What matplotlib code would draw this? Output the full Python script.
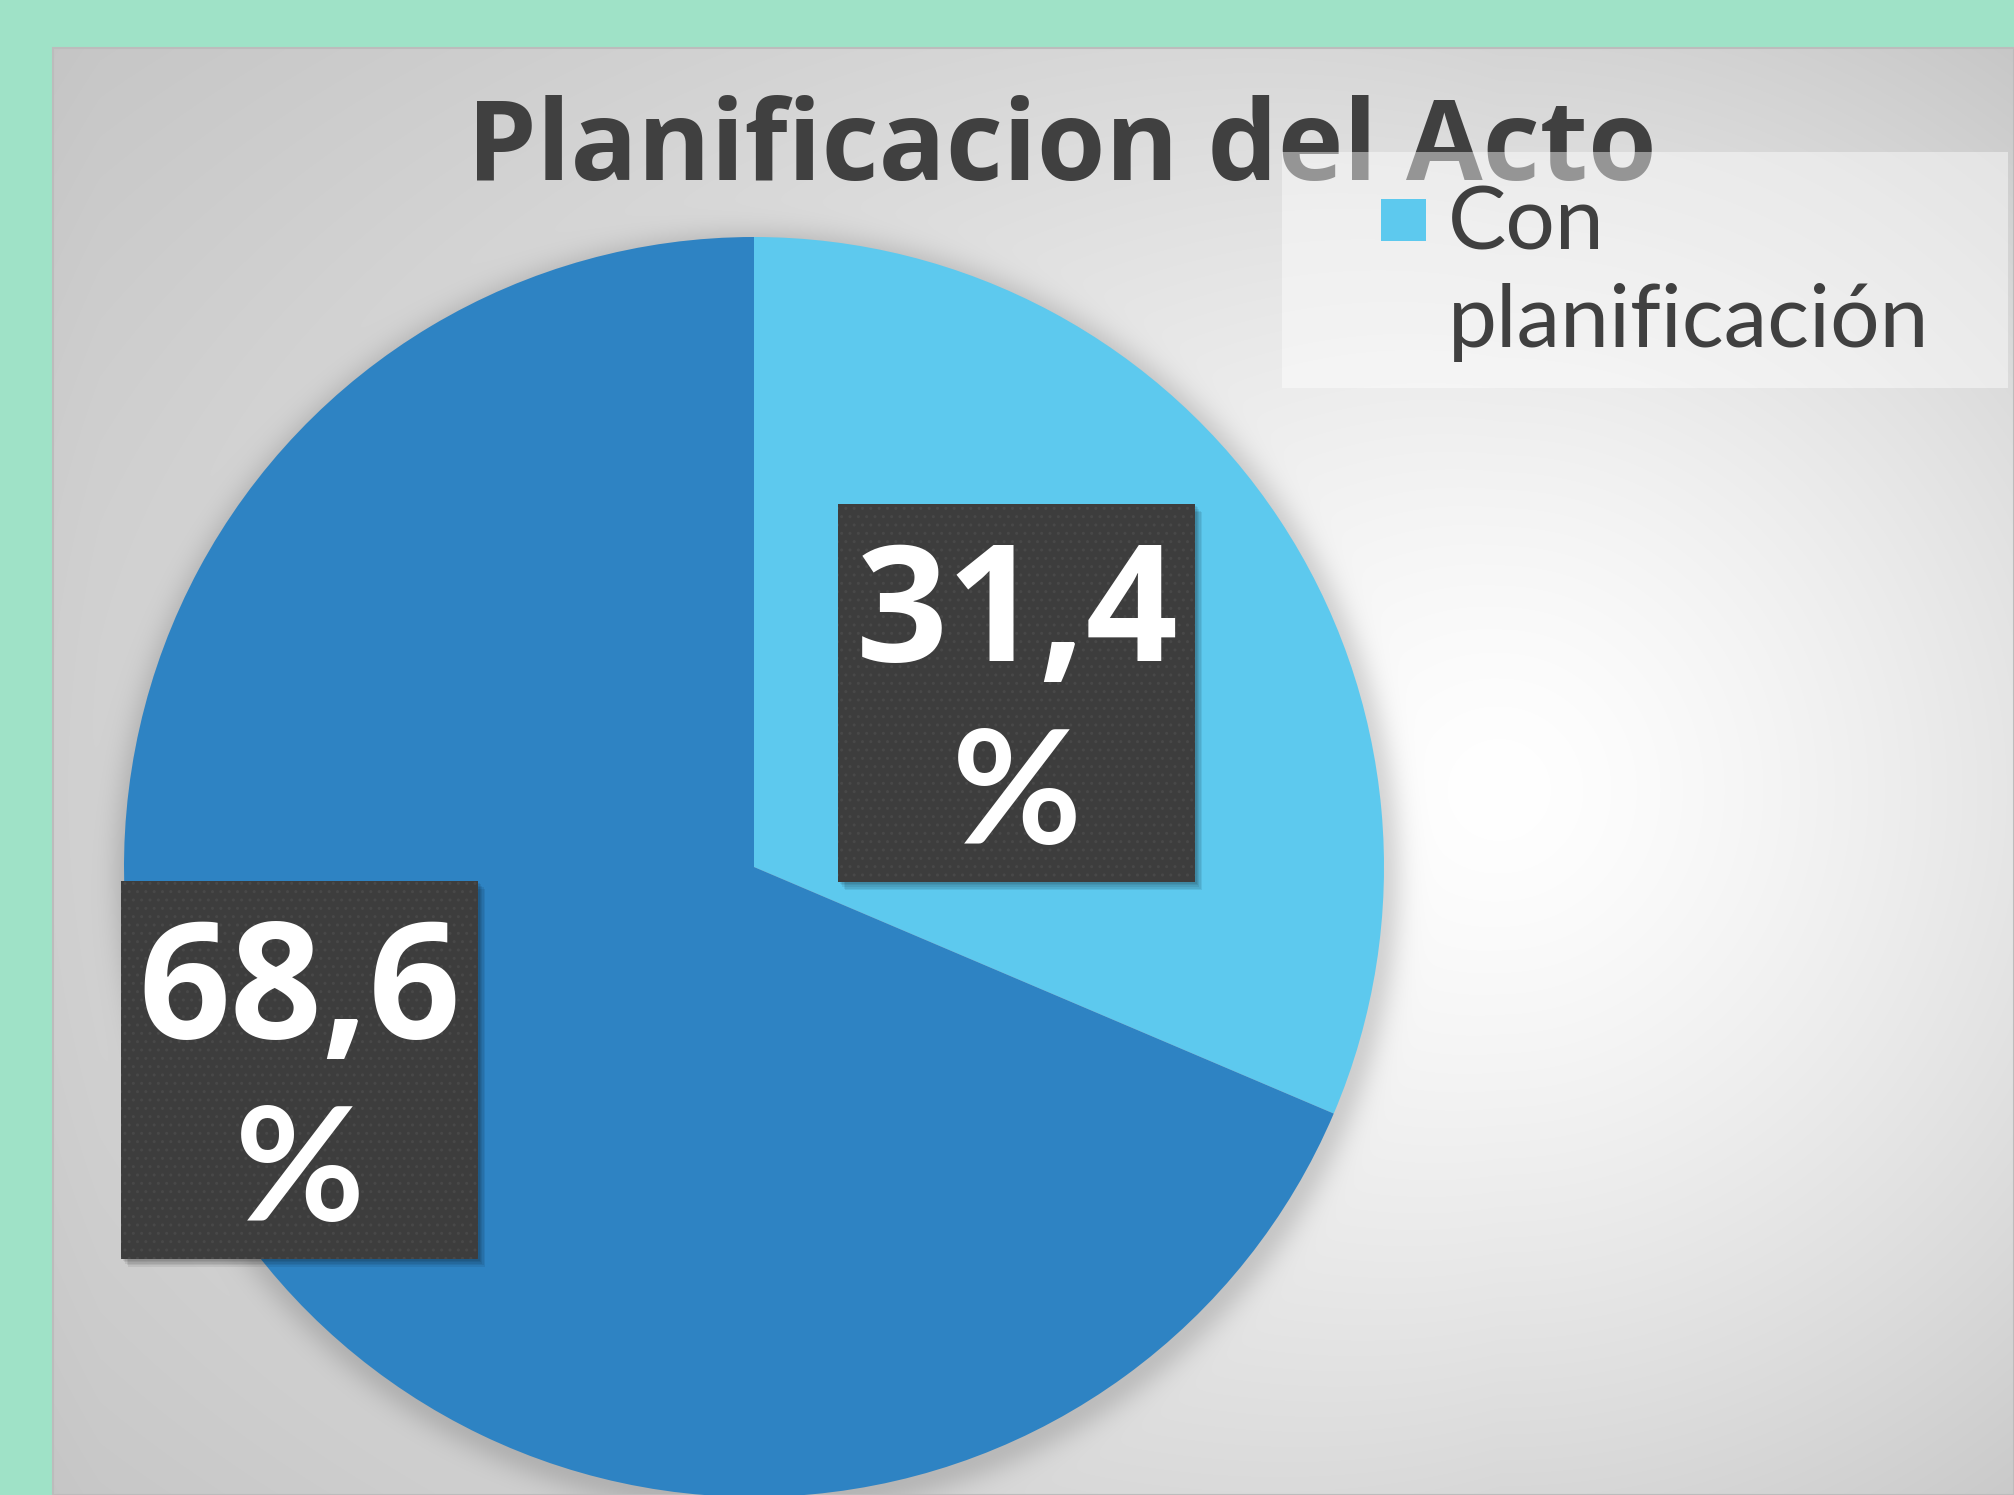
import numpy as np
import matplotlib
matplotlib.use("Agg")
import matplotlib.pyplot as plt
from matplotlib.patches import Rectangle
import textwrap

# ---------------- data ----------------
categories = ["Con planificación", "Sin planificación"]
values = [31.4, 68.6]
value_labels = ["31,4", "68,6"]
title = "Planificacion del Acto"
colors = ["#5DC9EE", "#2E83C3"]

# ---------------- layout / style ----------------
W, H = 2014, 1495
DPI = 100
TEAL = "#9FE2C7"
TEXT = "#404040"
FONT = ["Open Sans", "DejaVu Sans"]
LFONT = ["Lato", "DejaVu Sans"]

x0, y0 = 53, 48            # chart area top-left (pixels from top-left)
cx, cy, R = 754, 867, 630  # pie centre / radius (pixels from top-left)
label_dist = [0.50, 0.79]
label_shift = [0.0, -9.4]
box_w, box_h = 357, 378


def Y(py):
    return H - py


fig = plt.figure(figsize=(W / DPI, H / DPI), dpi=DPI, facecolor=TEAL)
ax = fig.add_axes([0, 0, 1, 1])
ax.axis("off")

# background gradient with soft pie shadow
xs = np.arange(x0, W) + 0.5
ys = np.arange(y0, H) + 0.5
X, Yp = np.meshgrid(xs, ys)
dx = X - 1500
dy = Yp - 790
left = np.clip(-dx / 1400.0, 0, 1)
sx = 1 + 0.8 * left
sy = 1 + 0.6 * left
r = np.hypot(dx / sx, dy / sy)
val = 255 - 52 * (r / 855.0) ** 1.4
d = np.hypot(X - (cx + 4), Yp - (cy + 7))
s = np.exp(-np.clip(d - R + 6, 0, None) ** 2 / (2 * 16.0 ** 2))
val = val * (1 - 0.15 * s)
val = np.clip(val, 0, 255) / 255.0
img = np.dstack([val, val, val])
ax.imshow(img, extent=(x0, W, 0, Y(y0)), origin="upper", zorder=0,
          interpolation="nearest", aspect="auto")
ax.add_patch(Rectangle((x0, 0), W - x0, Y(y0), fill=False,
                       edgecolor="#bcbcbc", linewidth=1.5, zorder=1))

# pie
wedges, _ = ax.pie(values, colors=colors, startangle=90, counterclock=False,
                   center=(cx, Y(cy)), radius=R,
                   wedgeprops=dict(linewidth=0, edgecolor="none"))
for w in wedges:
    w.set_zorder(2)

# value label boxes
for i, w in enumerate(wedges):
    th = np.deg2rad((w.theta1 + w.theta2) / 2 + label_shift[i])
    bx = cx + label_dist[i] * R * np.cos(th)
    by = Y(cy) + label_dist[i] * R * np.sin(th)
    left_x = bx - box_w / 2
    bot_y = by - box_h / 2
    for k in range(1, 6):
        ax.add_patch(Rectangle((left_x + k * 1.4, bot_y - k * 1.6), box_w, box_h,
                               facecolor="black", edgecolor="none",
                               alpha=0.07, zorder=5))
    ax.add_patch(Rectangle((left_x, bot_y), box_w, box_h,
                           facecolor="#3d3d3d", edgecolor="#484848",
                           linewidth=0, hatch="..", zorder=6))
    top = by + box_h / 2
    ax.text(bx, top - 157, value_labels[i], ha="center", va="baseline",
            fontsize=116, fontweight="bold", color="white", family=FONT, zorder=7)
    ax.text(bx, top - 340, "%", ha="center", va="baseline",
            fontsize=114, fontweight="bold", color="white", family=LFONT, zorder=7)

# title
ax.text(1062, Y(180), title, ha="center", va="baseline", fontsize=80,
        fontweight="bold", color=TEXT, family=FONT, zorder=3)

# legend (first entry visible)
ax.add_patch(Rectangle((1282, Y(388)), 726, 236, facecolor="white",
                       edgecolor="none", alpha=0.45, zorder=4))
ax.add_patch(Rectangle((1381, Y(241)), 45, 42, facecolor=colors[0],
                       edgecolor="none", zorder=5))
lines = textwrap.wrap(categories[0], 10, break_long_words=False)
for j, ln in enumerate(lines):
    ax.text(1448, Y(250 + 97 * j), ln, ha="left", va="baseline", fontsize=63,
            color=TEXT, family=LFONT, zorder=5)

ax.set_xlim(0, W)
ax.set_ylim(0, H)
ax.set_aspect("auto")

fig.savefig("out.png", dpi=DPI, facecolor=TEAL)
